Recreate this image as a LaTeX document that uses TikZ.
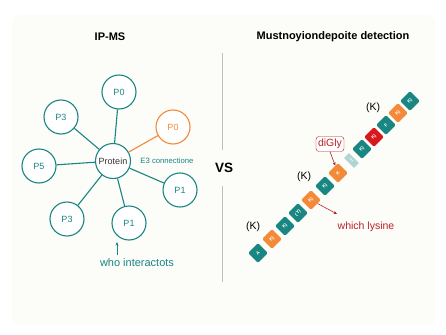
\documentclass[tikz,border=0pt]{standalone}
\usepackage{fontspec}
\setmainfont{Liberation Sans}
\usetikzlibrary{positioning,arrows.meta,calc}
\definecolor{tealc}{HTML}{1A8682}
\definecolor{orng}{HTML}{F28A3A}
\definecolor{redc}{HTML}{D8181C}
\definecolor{darkred}{HTML}{B52429}
\definecolor{paper}{HTML}{FCFCF9}

\begin{document}
\begin{tikzpicture}[x=1pt, y=-1pt, font=\fontsize{9}{10}\selectfont,
          prot/.style={draw=tealc, circle, line width=1.1pt, minimum size=34pt,
                       inner sep=0pt, fill=white, text=tealc},
          link/.style={tealc, line width=1.1pt},
          res/.style={rounded corners=1.5pt, minimum size=14pt, inner sep=0pt,
                      rotate=45, text=white, font=\fontsize{4.6}{5}\bfseries\selectfont},
          lbl/.style={font=\fontsize{10.5}{12}\selectfont},
          ttl/.style={font=\fontsize{11}{12}\bfseries\selectfont}]
        \path[use as bounding box, fill=white] (0,0) rectangle (446,334);
        \fill[paper, rounded corners=8pt] (12,15) rectangle (435,325);
        % titles and divider
        \node[ttl] (t1) at (110,37) {IP-MS};
        \node[ttl] (t2) at (333,37) {Mustnoyiondepoite detection};
        \node[font=\fontsize{13.5}{14}\bfseries\selectfont, minimum height=36pt] (vs) at (224,168) {VS};
        \coordinate (dtop) at (222,53);
        \coordinate (dbot) at (222,282);
        \draw[black!25, line width=0.6pt] (dtop) -- (dtop |- vs.north);
        \draw[black!25, line width=0.6pt] (dbot) -- (dbot |- vs.south);
        % interaction partners round the bait
        \node[prot, minimum size=35pt, text=black!80] (bait) at (113,161) {Protein};
        \node[prot] (p0a) at (119,92) {P0};
        \node[prot] (p3a) at (61,117) {P3};
        \node[prot, draw=orng, text=orng] (p0b) at (173,127) {P0};
        \node[prot] (p5) at (39,166) {P5};
        \node[prot] (p1a) at (180,190) {P1};
        \node[prot] (p3b) at (67,219) {P3};
        \node[prot] (p1b) at (129,223) {P1};
        \foreach \n in {p0a,p3a,p5,p1a,p3b,p1b} \draw[link] (bait) -- (\n);
        \draw[link, orng] (bait) -- (p0b);
        \node[text=tealc, font=\fontsize{7.7}{9}\selectfont] (e3) at (167,161) {E3 connectione};
        \node[text=tealc, font=\fontsize{11}{12}\selectfont] (who) at (137,263) {who interactots};
        \coordinate (whotip) at (117,242);
        \draw[-{Stealth[length=3.5pt,width=3pt]}, tealc, line width=0.7pt] (who.north -| whotip) -- (whotip);
        % peptide chain, lower left to upper right
        \foreach \t/\lab/\col [count=\i] in {0/A/tealc, 14/K)/orng, 27/K)/tealc, 40/(Y)/tealc,
              53/K)/orng, 67/K)/tealc, 80/K/orng, 104/K)/tealc, 116/K)/redc, 128/F/tealc,
              140/K)/orng, 152/K)/tealc}
          \node[res, fill=\col] (r\i) at (258+\t,253-\t) {\lab};
        \node[rotate=45, fill=tealc!35, minimum width=7pt, minimum height=14pt, inner sep=0pt,
              text=white, font=\fontsize{5}{5}\bfseries\selectfont] (gap) at (351.5,160.5) {|};
        \node[lbl] (k1) at (253,227) {(K)};
        \node[lbl] (k2) at (304,177) {(K)};
        \node[lbl] (k3) at (373,108) {(K)};
        % modified site and the question it answers
        \node[draw=darkred, rounded corners=3pt, fill=white, text=darkred, lbl,
              inner sep=2pt, minimum height=15pt] (dg) at (330,144) {diGly};
        \draw[-{Stealth[length=3.5pt,width=3pt]}, darkred, line width=0.6pt] (dg.south) -- (r7);
        \node[lbl, text=darkred] (lys) at (366,227) {which lysine};
        \coordinate (lystip) at (337,214);
        \draw[-{Stealth[length=3.5pt,width=3pt]}, darkred, line width=0.6pt] (r5) -- (lystip);
      \end{tikzpicture}
\end{document}
